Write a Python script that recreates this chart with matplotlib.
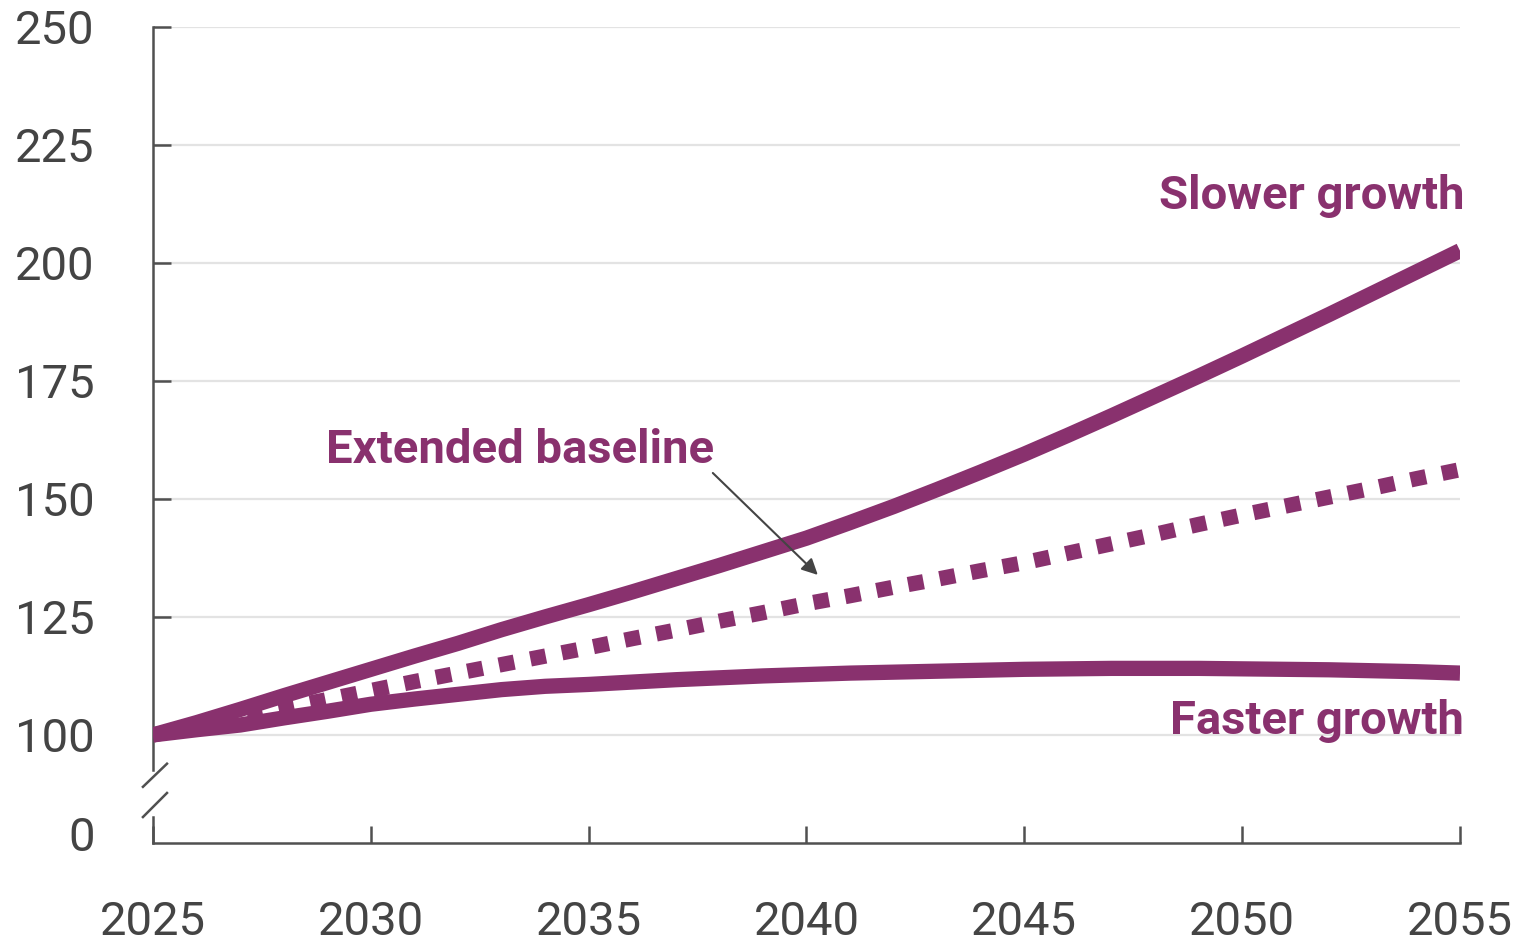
import numpy as np
import matplotlib
matplotlib.use("Agg")
import matplotlib.pyplot as plt
from matplotlib.lines import Line2D

# Index, 2025 = 100
years = np.arange(2025, 2056)
slower = [100.0, 102.6, 105.4, 108.3, 111.1, 113.9, 116.7, 119.4, 122.3, 125.0,
          127.6, 130.3, 133.1, 135.9, 138.8, 141.7, 145.0, 148.4, 152.0, 155.7,
          159.5, 163.5, 167.6, 171.8, 176.0, 180.3, 184.7, 189.1, 193.6, 198.1,
          202.6]
baseline = [100.0, 101.8, 103.7, 105.6, 107.5, 109.4, 111.3, 113.1, 114.9, 116.7,
            118.5, 120.4, 122.2, 124.1, 125.9, 127.8, 129.5, 131.3, 133.0, 134.8,
            136.5, 138.5, 140.5, 142.5, 144.6, 146.6, 148.5, 150.4, 152.3, 154.3,
            156.2]
faster = [100.0, 101.1, 102.1, 103.6, 105.0, 106.5, 107.6, 108.6, 109.6, 110.3,
          110.7, 111.2, 111.7, 112.1, 112.5, 112.8, 113.1, 113.3, 113.5, 113.7,
          113.9, 114.0, 114.1, 114.1, 114.1, 114.0, 113.9, 113.8, 113.6, 113.4,
          113.1]

xticks = [2025, 2030, 2035, 2040, 2045, 2050, 2055]
yticks = [100, 125, 150, 175, 200, 225, 250]

# the axis is broken below 100; "0" sits just above the bottom edge
y_bottom = 77.1
y_zero = 79.2

purple = "#89316E"
dark = "#505050"
grid_col = "#e3e3e3"

plt.rcParams["font.family"] = ["Roboto", "DejaVu Sans"]

fig = plt.figure(figsize=(15.16, 9.42), dpi=100)
ax = fig.add_axes([153/1516, 1 - 843/942, 1307/1516, 816/942])

ax.plot(years, slower, color=purple, lw=11, solid_capstyle="butt", zorder=3)
ax.plot(years, faster, color=purple, lw=11, solid_capstyle="butt", zorder=3)
ax.plot(years, baseline, color=purple, lw=11, dashes=(1.02, 1.08),
        dash_capstyle="butt", zorder=3)

ax.set_xlim(2025, 2055)
ax.set_ylim(y_bottom, 250)

ax.set_xticks(xticks)
ax.set_xticklabels([str(x) for x in xticks])
ax.set_yticks([y_zero] + yticks)
ax.set_yticklabels(["0"] + [str(y) for y in yticks])

ax.tick_params(axis="both", direction="in", colors=dark, labelcolor="#444444",
               labelsize=34, width=1.8)
ax.tick_params(axis="y", length=13, pad=42)
ax.tick_params(axis="x", length=12, pad=41)

ax.grid(axis="y", color=grid_col, lw=1.6, zorder=0)
ax.set_axisbelow(True)
t0 = ax.yaxis.get_major_ticks()[0]
t0.tick1line.set_visible(False)
t0.gridline.set_visible(False)

for s in ["top", "right"]:
    ax.spines[s].set_visible(False)
ax.spines["bottom"].set_color(dark)
ax.spines["bottom"].set_linewidth(1.8)
ax.spines["left"].set_color(dark)
ax.spines["left"].set_linewidth(1.8)
ax.spines["left"].set_bounds(92.6, 250)

# lower stub of the y axis and the break marks
trans = ax.get_yaxis_transform()
ax.add_line(Line2D([0, 0], [y_bottom, 82.6], transform=trans, color=dark,
                   lw=1.8, clip_on=False))
for y0, y1 in [(89.0, 93.9), (82.6, 87.7)]:
    ax.add_line(Line2D([-0.0077, 0.0107], [y0, y1], transform=trans,
                       color=dark, lw=1.8, clip_on=False))

ax.text(2055.1, 214.2, "Slower growth", color=purple, fontsize=34,
        fontweight="bold", ha="right", va="center")
ax.text(2055.1, 102.9, "Faster growth", color=purple, fontsize=34,
        fontweight="bold", ha="right", va="center")
ax.text(2028.97, 160.3, "Extended baseline", color=purple, fontsize=34,
        fontweight="bold", ha="left", va="center")
ax.annotate("", xy=(2040.26, 133.9), xytext=(2037.85, 155.5),
            arrowprops=dict(arrowstyle="-|>", color="#444444", lw=1.5,
                            mutation_scale=24, shrinkA=0, shrinkB=0))

fig.savefig("out.png", dpi=100)
